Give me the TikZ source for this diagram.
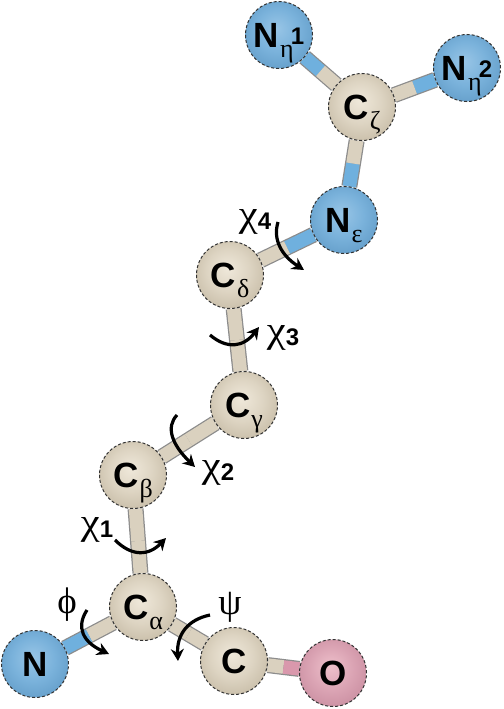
\documentclass[tikz,border=0pt]{standalone}
\usepackage{fontspec}
\setmainfont{Liberation Sans}
\newfontfamily\grk{Liberation Serif}
\newfontfamily\grkw[FakeStretch=1.15]{Liberation Serif}
\usetikzlibrary{arrows.meta,calc,backgrounds}
\definecolor{cC0}{HTML}{EFE8DA}\definecolor{cC1}{HTML}{DDD4C2}\definecolor{cC2}{HTML}{BBAF98}\definecolor{cC3}{HTML}{756B58}
\definecolor{cN0}{HTML}{98C5E6}\definecolor{cN1}{HTML}{7AB2DB}\definecolor{cN2}{HTML}{5792BF}\definecolor{cN3}{HTML}{2D587C}
\definecolor{cO0}{HTML}{EEC0CB}\definecolor{cO1}{HTML}{DBA4B4}\definecolor{cO2}{HTML}{C08296}\definecolor{cO3}{HTML}{774C5C}
\definecolor{bC}{HTML}{DAD1BF}\definecolor{bN}{HTML}{6FB0DE}\definecolor{bO}{HTML}{D998AC}
\pgfdeclareradialshading{ballC}{\pgfpoint{-2bp}{5bp}}{color(0bp)=(cC0);color(16bp)=(cC1);color(38bp)=(cC2);color(52bp)=(cC3)}
\pgfdeclareradialshading{ballN}{\pgfpoint{-2bp}{5bp}}{color(0bp)=(cN0);color(16bp)=(cN1);color(38bp)=(cN2);color(52bp)=(cN3)}
\pgfdeclareradialshading{ballO}{\pgfpoint{-2bp}{5bp}}{color(0bp)=(cO0);color(16bp)=(cO1);color(38bp)=(cO2);color(52bp)=(cO3)}
\newcommand{\atomtxt}[1]{\fontsize{35}{35}\selectfont\bfseries #1}
\newcommand{\subg}[1]{\hspace{1pt}\raisebox{-10pt}[0pt][0pt]{\fontsize{26}{26}\selectfont\normalfont\grk #1}\hspace{-4pt}}
\newcommand{\supd}[1]{\hspace{1pt}\raisebox{3pt}[0pt][0pt]{\fontsize{24}{24}\selectfont\bfseries #1}\hspace{-8pt}}
\newcommand{\chilabel}[1]{{\fontsize{37}{37}\selectfont\grkw χ}\raisebox{-3pt}{\fontsize{24}{24}\selectfont\bfseries #1}}
\newcommand{\turnarrow}[3]{\draw[turn] (#1) .. controls ($(#1)!.667!(#2)$) and ($(#3)!.667!(#2)$) .. (#3);}
\tikzset{
  atom/.style={circle,minimum size=67pt,inner sep=0pt,draw=black!80,line width=1pt,densely dashed,text=black},
  atomC/.style={atom,shading=ballC},
  atomN/.style={atom,shading=ballN},
  atomO/.style={atom,shading=ballO},
  bondedge/.style={line width=16pt,draw=black!45},
  bondfill/.style={line width=13.5pt},
  turn/.style={line width=3.2pt,draw=black,-{Stealth[length=12pt,width=13pt]}},
  anglabel/.style={inner sep=0pt,text=black}
}
\begin{document}
\begin{tikzpicture}[x=1pt,y=-1pt]
\useasboundingbox (0,0) rectangle (503,709);
% atoms
\node[atomN] (Ne1) at (279,35) {\atomtxt{N}\subg{η}\supd{1}};
\node[atomC] (Cz) at (362,107) {\atomtxt{C}\subg{ζ}};
\node[atomN] (Ne2) at (467,68) {\atomtxt{N}\subg{η}\supd{2}};
\node[atomN] (Ne) at (344,220) {\atomtxt{N}\subg{ε}};
\node[atomC] (Cd) at (230,275) {\atomtxt{C}\subg{δ}};
\node[atomC] (Cg) at (244,405) {\atomtxt{C}\subg{γ}};
\node[atomC] (Cb) at (133,475) {\atomtxt{C}\subg{β}};
\node[atomC] (Ca) at (143,607) {\atomtxt{C}\subg{α}};
\node[atomN] (Nb) at (35,664) {\atomtxt{N}};
\node[atomC] (Cc) at (234,661) {\atomtxt{C}};
\node[atomO] (Ox) at (333,673) {\atomtxt{O}};
% bonds
\begin{pgfonlayer}{background}
\fill[white] (0,0) rectangle (503,709);
\foreach \a/\b/\ca/\cb in {Ne1/Cz/bN/bC,Ne2/Cz/bN/bC,Ne/Cz/bN/bC,Ne/Cd/bN/bC,Cd/Cg/bC/bC,Cg/Cb/bC/bC,Cb/Ca/bC/bC,Ca/Nb/bC/bN,Ca/Cc/bC/bC,Cc/Ox/bC/bO}{
  \draw[bondedge] (\a) -- (\b);
  \draw[bondfill,draw=\ca] (\a) -- ($(\a)!.5!(\b)$);
  \draw[bondfill,draw=\cb] (\b) -- ($(\a)!.5!(\b)$);
}
\end{pgfonlayer}
% rotation arrows
\coordinate (x4a) at (278,222); \coordinate (x4c) at (270,248); \coordinate (x4b) at (304,270);
\coordinate (x3a) at (210,335); \coordinate (x3c) at (236,357); \coordinate (x3b) at (259,327);
\coordinate (x2a) at (177,415); \coordinate (x2c) at (160,433); \coordinate (x2b) at (195,467);
\coordinate (x1a) at (115,540); \coordinate (x1c) at (140,565); \coordinate (x1b) at (166,538);
\coordinate (pha) at (87,610);  \coordinate (phc) at (70,636);  \coordinate (phb) at (109,654);
\coordinate (psa) at (210,615); \coordinate (psc) at (176,622); \coordinate (psb) at (178,661);
\turnarrow{x4a}{x4c}{x4b}
\turnarrow{x3a}{x3c}{x3b}
\turnarrow{x2a}{x2c}{x2b}
\turnarrow{x1a}{x1c}{x1b}
\turnarrow{pha}{phc}{phb}
\turnarrow{psa}{psc}{psb}
% labels
\node[anglabel] (l4) at (255,222) {\chilabel{4}};
\node[anglabel] (l3) at (283,338) {\chilabel{3}};
\node[anglabel] (l2) at (218,473) {\chilabel{2}};
\node[anglabel] (l1) at (97,530) {\chilabel{1}};
\node[anglabel] (lph) at (67,605) {\fontsize{37}{37}\selectfont\grk ϕ};
\node[anglabel] (lps) at (230,607) {\fontsize{37}{37}\selectfont\grk ψ};
\end{tikzpicture}
\end{document}
